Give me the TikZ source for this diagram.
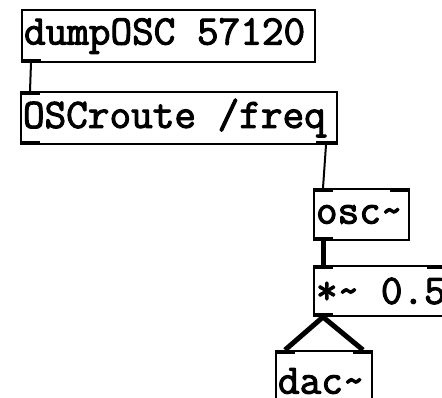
\documentclass[tikz,border=0pt]{standalone}
\usepackage{fontspec}
\newfontfamily\pdfont[FakeBold=2.5]{Latin Modern Mono}
\newcommand{\pdgap}{\hphantom{0}}
\usetikzlibrary{positioning}

\begin{document}
\begin{tikzpicture}[
    x=1pt, y=-1pt,
    obj/.style={rectangle, draw, line width=2pt, anchor=north west, inner xsep=2pt, inner ysep=0pt, align=left, font=\fontsize{42}{46}\selectfont\pdfont},
    iolet/.style={fill=black},
    ctl/.style={line width=2pt},
    sig/.style={line width=5pt}
]
    \useasboundingbox (0,0) rectangle (442,398);
    \clip (0,0) rectangle (442,398);

    % objects
    \node[obj, minimum width=292pt, minimum height=52pt, text width=289pt] (dump) at (21,9) {dumpOSC\pdgap57120};
    \node[obj, minimum width=315pt, minimum height=52pt, text width=312pt] (route) at (20,91) {OSCroute\pdgap/freq};
    \node[obj, minimum width=94pt, minimum height=51pt, text width=91pt] (osc) at (313,188) {osc\char`~};
    \node[obj, minimum width=131pt, minimum height=50pt, text width=128pt] (mul) at (313,265) {*\char`~\pdgap0.5};
    \node[obj, minimum width=95pt, minimum height=60pt, text width=92pt] (dac) at (275,350) {dac\char`~};

    % inlets and outlets
    \fill[iolet] (dump.south west) rectangle ++(20,-4);
    \fill[iolet] (route.north west) rectangle ++(20,4);
    \fill[iolet] (route.south west) rectangle ++(20,-4);
    \fill[iolet] (route.south east) rectangle ++(-22,-4);
    \fill[iolet] (osc.north west) rectangle ++(20,4);
    \fill[iolet] (osc.north east) rectangle ++(-20,4);
    \fill[iolet] (osc.south west) rectangle ++(20,-4);
    \fill[iolet] (mul.north west) rectangle ++(20,4);
    \fill[iolet] (mul.north east) rectangle ++(-20,4);
    \fill[iolet] (mul.south west) rectangle ++(20,-4);
    \fill[iolet] (dac.north west) rectangle ++(20,4);
    \fill[iolet] (dac.north east) rectangle ++(-20,4);

    % connections
    \draw[ctl] ([xshift=10pt]dump.south west) -- ([xshift=10pt]route.north west);
    \draw[ctl] ([xshift=-12pt]route.south east) -- ([xshift=10pt]osc.north west);
    \draw[sig] ([xshift=10pt]osc.south west) -- ([xshift=10pt]mul.north west);
    \draw[sig] ([xshift=10pt]mul.south west) -- ([xshift=10pt]dac.north west);
    \draw[sig] ([xshift=10pt]mul.south west) -- ([xshift=-10pt]dac.north east);
\end{tikzpicture}
\end{document}
